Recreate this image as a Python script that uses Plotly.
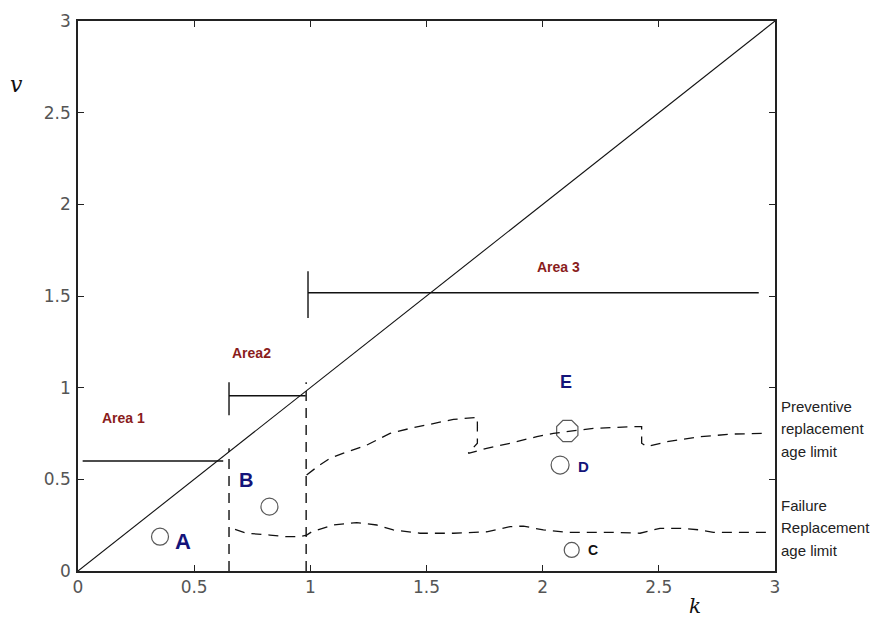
import plotly.graph_objects as go

# --- data -------------------------------------------------------------
diag_k = [0, 3]
diag_v = [0, 3]

# Area 1 limit
area1_k = [0.02, 0.625]
area1_v = [0.60, 0.60]

# Area 2 bracket
area2_tick_k = [0.65, 0.65]
area2_tick_v = [0.85, 1.03]
area2_k = [0.65, 0.98]
area2_v = [0.956, 0.956]

# Area 3 bracket
area3_tick_k = [0.99, 0.99]
area3_tick_v = [1.38, 1.635]
area3_k = [0.99, 2.93]
area3_v = [1.518, 1.518]

# dashed boundaries between areas
bound1_k = [0.65, 0.65]
bound1_v = [0.0, 0.67]
bound2_k = [0.982, 0.982]
bound2_v = [0.0, 1.03]

# preventive replacement age limit
prev_k = [0.984, 1.04, 1.085, 1.14, 1.243, 1.343, 1.43, 1.53, 1.616, 1.719,
          1.719, 1.68, 1.759, 1.86, 1.975, 2.046, 2.104, 2.218, 2.39, 2.426,
          2.426, 2.448, 2.534, 2.678, 2.82, 2.965]
prev_v = [0.524, 0.578, 0.615, 0.642, 0.687, 0.751, 0.778, 0.806, 0.827, 0.838,
          0.697, 0.642, 0.669, 0.697, 0.733, 0.751, 0.760, 0.778, 0.787, 0.787,
          0.697, 0.678, 0.705, 0.733, 0.747, 0.751]

# failure replacement age limit
fail_k = [0.676, 0.726, 0.826, 0.898, 0.956, 0.984, 1.006, 1.099, 1.2, 1.286,
          1.357, 1.472, 1.616, 1.759, 1.86, 1.917, 2.003, 2.104, 2.304, 2.419,
          2.505, 2.591, 2.678, 2.735, 2.965]
fail_v = [0.227, 0.206, 0.196, 0.187, 0.187, 0.196, 0.214, 0.251, 0.264, 0.251,
          0.224, 0.206, 0.206, 0.214, 0.242, 0.245, 0.224, 0.211, 0.211, 0.206,
          0.233, 0.233, 0.224, 0.211, 0.211]

# operating points
pt_names = ["A", "B", "C", "D", "E"]
pt_k = [0.353, 0.824, 2.125, 2.075, 2.106]
pt_v = [0.187, 0.351, 0.115, 0.578, 0.764]

tick_vals = [0, 0.5, 1, 1.5, 2, 2.5, 3]
tick_text = ["0", "0.5", "1", "1.5", "2", "2.5", "3"]

# --- figure -----------------------------------------------------------
fig = go.Figure()

def line(xs, ys, width=1.4, dash="solid"):
    fig.add_trace(go.Scatter(x=xs, y=ys, mode="lines", hoverinfo="skip",
                             line=dict(color="#111", width=width, dash=dash)))

line(diag_k, diag_v, width=1.1)
line(area1_k, area1_v)
line(area2_tick_k, area2_tick_v)
line(area2_k, area2_v)
line(area3_tick_k, area3_tick_v)
line(area3_k, area3_v)
line(bound1_k, bound1_v, dash="10px,7px")
line(bound2_k, bound2_v, dash="10px,7px")
line(prev_k, prev_v, width=1.3, dash="10px,7px")
line(fail_k, fail_v, width=1.3, dash="10px,7px")

sizes = [17, 17, 15, 18, 23]
symbols = ["circle-open", "circle-open", "circle-open", "circle-open", "octagon-open"]
fig.add_trace(go.Scatter(x=pt_k, y=pt_v, mode="markers", hoverinfo="skip",
                         marker=dict(symbol=symbols, size=sizes, color="#111",
                                     line=dict(width=1.2, color="#111"))))

# point letters
lab_k = [0.45, 0.723, 2.218, 2.175, 2.1]
lab_v = [0.16, 0.496, 0.115, 0.569, 1.033]
lab_size = [22, 20, 14, 15, 18]
lab_col = ["#14147a", "#14147a", "#111", "#14147a", "#14147a"]
for n, k, v, s, c in zip(pt_names, lab_k, lab_v, lab_size, lab_col):
    fig.add_annotation(x=k, y=v, text=f"<b>{n}</b>", showarrow=False,
                       font=dict(family="Liberation Sans", size=s, color=c))

# area titles
area_names = ["Area 1", "Area2", "Area 3"]
area_k = [0.195, 0.748, 2.068]
area_v = [0.833, 1.191, 1.66]
for n, k, v in zip(area_names, area_k, area_v):
    fig.add_annotation(x=k, y=v, text=f"<b>{n}</b>", showarrow=False,
                       font=dict(family="Liberation Sans", size=14, color="#8a1c1c"))

# curve captions on the right
cap_lines = ["Preventive", "replacement", "age limit",
             "Failure", "Replacement", "age limit"]
cap_v = [0.90, 0.775, 0.65, 0.355, 0.235, 0.11]
for t, v in zip(cap_lines, cap_v):
    fig.add_annotation(xref="paper", x=1.006, y=v, text=t, showarrow=False,
                       xanchor="left", align="left",
                       font=dict(family="Liberation Sans", size=15, color="#222"))

# axis symbols
fig.add_annotation(xref="paper", yref="paper", x=-0.1, y=0.91, text="<i>v</i>",
                   showarrow=False,
                   font=dict(family="DejaVu Serif", size=22, color="#111"))
fig.add_annotation(xref="paper", yref="paper", x=0.897, y=-0.064, text="<i>k</i>",
                   showarrow=False, yanchor="middle",
                   font=dict(family="DejaVu Serif", size=20, color="#111"))

axis_common = dict(range=[0, 3], tickvals=tick_vals, ticktext=tick_text,
                   showgrid=False, zeroline=False, showline=True,
                   linecolor="#222", linewidth=1.5, mirror="allticks",
                   ticks="inside", ticklen=6, tickwidth=1.3, tickcolor="#222",
                   tickfont=dict(family="DejaVu Sans", size=17, color="#555"))

fig.update_xaxes(**axis_common)
fig.update_yaxes(**axis_common, ticklabelstandoff=2)

fig.update_layout(width=879, height=621, showlegend=False,
                  margin=dict(l=78, r=104, t=21, b=50),
                  paper_bgcolor="white", plot_bgcolor="white")

fig.write_html("out.html")
